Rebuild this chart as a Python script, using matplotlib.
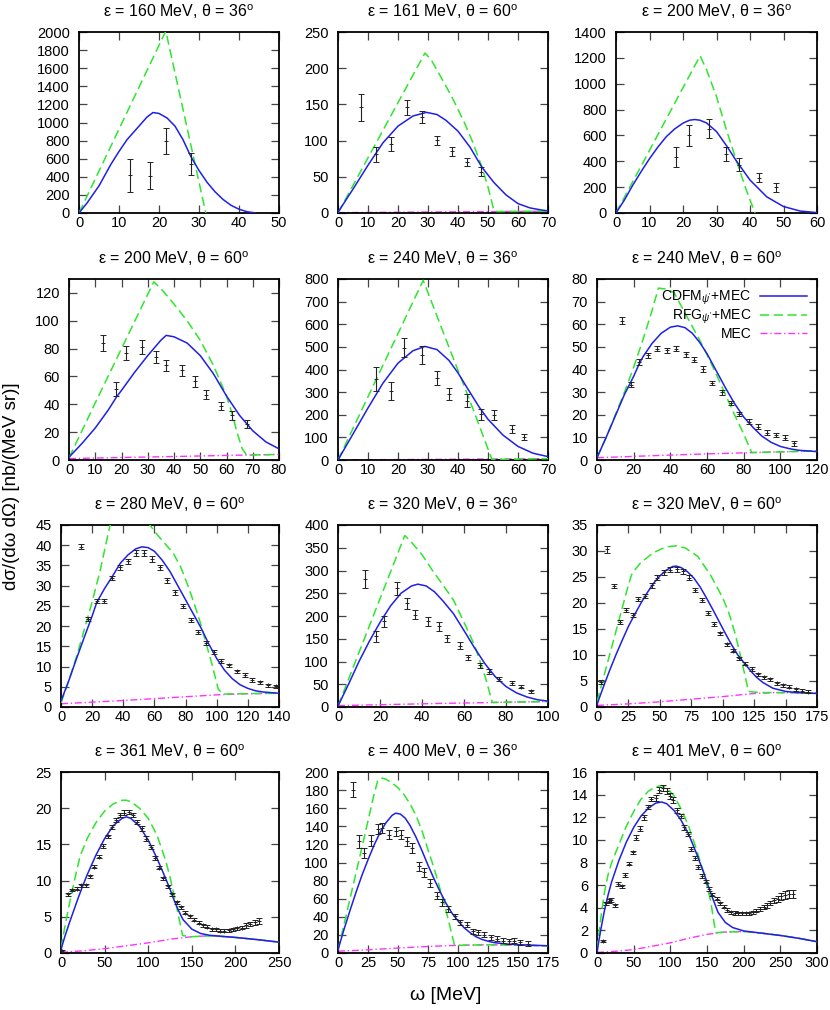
import matplotlib
matplotlib.use("Agg")
import matplotlib.pyplot as plt

plt.rcParams['font.family'] = ['Liberation Sans', 'DejaVu Sans']
plt.rcParams['mathtext.fontset'] = 'custom'
plt.rcParams['mathtext.rm'] = 'Liberation Sans'
plt.rcParams['mathtext.it'] = 'Liberation Sans:italic'

BLUE = '#1f1fe6'
GREEN = '#2ee62e'
MAGENTA = '#ff33ff'

# panel titles: (epsilon MeV, theta deg)
energies = [160, 161, 200, 200, 240, 240, 280, 320, 320, 361, 400, 401]
angles = [36, 60, 36, 60, 36, 60, 60, 36, 60, 60, 36, 60]

# axis ranges and ticks per panel
x_max = [50, 70, 60, 80, 70, 120, 140, 100, 175, 250, 175, 300]
x_step = [10, 10, 10, 10, 10, 20, 20, 20, 25, 50, 25, 50]
y_max = [2000, 250, 1400, 130, 800, 80, 45, 400, 35, 25, 200, 16]
y_tick_max = [2000, 250, 1400, 120, 800, 80, 45, 400, 35, 25, 200, 16]
y_step = [200, 50, 200, 20, 100, 10, 5, 50, 5, 5, 20, 2]

# ---- panel 1: 160 MeV, 36 deg ----
om1 = [12.7, 17.8, 21.8, 27.9]
xs1 = [415, 413, 798, 545]
er1 = [180, 148, 145, 120]
cdfm1_x = [0, 2, 5, 8, 10, 12, 15, 17, 18.5, 20, 22, 24, 26, 28, 30, 32, 34, 36, 38, 40, 42, 44]
cdfm1_y = [0, 110, 300, 540, 680, 810, 960, 1060, 1110, 1100, 1050, 960, 810, 620, 470, 340, 235, 150, 85, 42, 14, 2]
rfg1_x = [0, 21.7, 31.7]
rfg1_y = [0, 2010, 0]
mec1_x = []
mec1_y = []

# ---- panel 2: 161 MeV, 60 deg ----
om2 = [7.8, 12.8, 17.8, 22.9, 28.0, 32.9, 38.0, 42.9, 47.8]
xs2 = [146, 81, 95, 146, 133, 100.5, 85, 70.5, 57]
er2 = [19, 10, 10, 10, 8, 6, 6, 6, 6]
cdfm2_x = [0, 5, 10, 15, 20, 25, 29.5, 33, 36, 40, 44, 48, 52, 56, 60, 64, 68, 70]
cdfm2_y = [1, 33, 66, 97, 120, 134, 139, 136, 128, 113, 91, 63, 42, 25, 13, 7, 4, 3]
rfg2_x = [0, 29, 31, 34, 38, 42, 45, 48, 50, 52, 53, 70]
rfg2_y = [0, 221, 212, 190, 160, 126, 97, 63, 36, 3, 2, 2.5]
mec2_x = [0, 35, 70]
mec2_y = [0.5, 1.5, 2.5]

# ---- panel 3: 200 MeV, 36 deg ----
om3 = [17.9, 21.8, 27.8, 32.7, 36.7, 42.8, 47.8]
xs3 = [433, 601, 653, 459, 373, 272, 200]
er3 = [78, 80, 72, 55, 50, 35, 35]
cdfm3_x = [0, 2.5, 5, 7.5, 10, 12.5, 15, 17.5, 20, 22, 23.5, 25, 27, 30, 33, 36, 40, 45, 50, 55, 60]
cdfm3_y = [0, 100, 215, 320, 420, 510, 590, 650, 695, 718, 723, 718, 697, 630, 520, 400, 255, 125, 50, 15, 3]
rfg3_x = [0, 25.1, 27, 30, 33, 36, 39, 41.5]
rfg3_y = [0, 1216, 1110, 900, 640, 400, 170, 0]
mec3_x = []
mec3_y = []

# ---- panel 4: 200 MeV, 60 deg ----
om4 = [13.0, 17.9, 21.8, 27.9, 33.0, 37.1, 42.9, 48.0, 52.1, 58.0, 62.1, 67.9]
xs4 = [84, 51, 77, 81, 74, 68, 64.5, 56.5, 47, 39, 32, 26]
er4 = [6, 5, 5, 5, 4, 4, 4, 4, 3, 3, 3, 3]
cdfm4_x = [0, 5, 10, 15, 18, 20, 25, 30, 35, 37, 40, 45, 50, 55, 60, 65, 70, 75, 80]
cdfm4_y = [2, 12, 23, 36, 45, 50, 63, 75, 86, 89.5, 88.5, 84, 75, 62, 46, 32, 21, 13, 8]
rfg4_x = [0, 10, 20, 32.3, 36, 40, 45, 50, 55, 60, 62, 64, 66, 67.5, 70, 75, 80]
rfg4_y = [1.5, 41, 80, 128, 121, 112, 100, 86, 68, 46, 34, 20, 8, 4, 3.6, 3.8, 4]
mec4_x = [0, 20, 40, 60, 80]
mec4_y = [1, 1.8, 2.5, 3.3, 4.0]

# ---- panel 5: 240 MeV, 36 deg ----
om5 = [12.8, 17.8, 22.0, 28.0, 32.9, 37.0, 42.9, 47.7, 52.1, 58.0, 62.1]
xs5 = [358, 304, 497, 463, 363, 291, 262, 202, 198, 138, 102]
er5 = [52, 40, 42, 40, 32, 28, 28, 25, 22, 18, 15]
cdfm5_x = [0, 5, 10, 15, 20, 25, 29, 33, 37, 40, 43, 47, 50, 55, 60, 65, 70]
cdfm5_y = [0, 115, 230, 340, 428, 483, 502, 488, 440, 385, 320, 235, 180, 110, 60, 30, 15]
rfg5_x = [0, 28.4, 31, 35, 39, 43, 47, 51.3, 55, 60, 65, 70]
rfg5_y = [0, 794, 705, 567, 430, 295, 155, 3, 3, 4, 5, 6]
mec5_x = [0, 35, 70]
mec5_y = [0.5, 3, 6]

# ---- panel 6: 240 MeV, 60 deg ----
om6 = [13.5, 18.4, 23.1, 28.0, 32.9, 38.0, 43.1, 48.4, 53.1, 58.0, 62.9, 68.0, 72.9, 77.6, 82.9, 88.0, 92.9, 97.7, 102.7, 107.6]
xs6 = [61.5, 33.3, 43.3, 46.2, 49.2, 48.4, 49.2, 46.7, 44.4, 40.3, 34.1, 29.9, 25.2, 20.4, 17.0, 14.8, 12.1, 11.1, 9.9, 7.4]
er6 = [1.5, 1.2, 1.2, 1.2, 1.2, 1.2, 1.2, 1.2, 1.2, 1.2, 1.0, 1.0, 1.0, 1.0, 1.0, 1.0, 1.0, 1.0, 1.0, 1.0]
cdfm6_x = [0, 5, 10, 15, 20, 23, 25, 30, 35, 40, 44, 48, 52, 56, 60, 65, 70, 75, 80, 85, 90, 95, 100, 105, 110, 120]
cdfm6_y = [1, 10, 19.5, 29, 37, 42.5, 45.5, 51.5, 56, 58.7, 59.3, 58.5, 56, 52, 47, 39.5, 32, 25, 19, 14.5, 10.5, 7.8, 6, 5, 4.3, 3.7]
rfg6_x = [0, 5, 10, 15, 20, 25, 30, 33.5, 38, 42, 46, 50, 56, 60, 65, 70, 75, 80, 84.4, 90, 100, 110, 120]
rfg6_y = [1, 10, 20, 30, 41, 53, 66, 76, 75.5, 74, 68, 62, 53, 46.5, 38, 29, 20, 11.5, 3.3, 3.4, 3.6, 3.8, 4.0]
mec6_x = [0, 30, 60, 90, 120]
mec6_y = [1.0, 1.9, 2.7, 3.4, 4.0]

# ---- panel 7: 280 MeV, 60 deg ----
om7 = [12.6, 17.5, 22.9, 27.8, 32.9, 38.0, 43.0, 48.1, 53.2, 58.3, 63.5, 68.2, 73.1, 78.1, 83.2, 88.1, 93.0, 98.3, 103.0, 108.0, 113.1, 118.0, 122.9, 128.1, 133.2, 137.9]
xs7 = [39.6, 21.7, 26.1, 26.3, 32.0, 34.5, 36.0, 38.1, 38.1, 36.6, 34.5, 31.3, 28.4, 24.9, 21.5, 18.5, 15.8, 13.6, 11.3, 10.3, 8.8, 7.9, 6.7, 6.1, 5.4, 5.1]
er7 = [0.6, 0.5, 0.5, 0.5, 0.5, 0.6, 0.6, 0.7, 0.7, 0.7, 0.6, 0.6, 0.6, 0.5, 0.5, 0.5, 0.5, 0.5, 0.5, 0.4, 0.4, 0.4, 0.4, 0.4, 0.4, 0.4]
cdfm7_x = [0, 5, 10, 15, 20, 23, 28, 33, 38, 43, 48, 52, 56, 60, 65, 70, 75, 80, 85, 90, 95, 100, 105, 110, 115, 120, 125, 130, 140]
cdfm7_y = [1.5, 6.5, 12, 17.3, 22.5, 25.9, 29.3, 32.3, 35.5, 37.6, 39.1, 39.6, 39.4, 38.5, 36.3, 33.5, 30, 26.5, 23, 19.5, 15.5, 12, 9.1, 7.0, 5.5, 4.6, 4.0, 3.7, 3.4]
rfg7_x = [0, 5, 10, 16.5, 20, 25, 31.4, 35, 40, 45, 50, 57, 62, 67, 72, 77, 82, 86, 89.2, 93, 97, 101, 104, 110, 120, 130, 140]
rfg7_y = [1, 6.5, 12.5, 21.2, 26, 33.5, 44.8, 47, 48.5, 49, 48.3, 45, 42.5, 40.3, 38.1, 34.5, 29.5, 25, 21.2, 16, 10.5, 4.4, 3.2, 3.25, 3.3, 3.35, 3.4]
mec7_x = [0, 35, 70, 100, 120, 140]
mec7_y = [0.8, 1.5, 2.3, 3.0, 3.3, 3.4]

# ---- panel 8: 320 MeV, 36 deg ----
om8 = [12.9, 18.0, 21.8, 28.0, 33.0, 36.9, 42.7, 47.9, 51.8, 58.1, 62.1, 67.7, 72.1, 76.9, 82.8, 87.1, 91.9]
xs8 = [281, 155, 188, 261, 228, 203, 188, 177, 151, 135, 109, 91.4, 78, 62, 52.7, 45, 34.4]
er8 = [20, 13, 13, 14, 12, 10, 9, 9, 8, 8, 6, 6, 5, 5, 4, 4, 4]
cdfm8_x = [0, 5, 10, 15, 20, 25, 30, 35, 38, 42, 46, 50, 55, 60, 65, 70, 75, 80, 85, 90, 95, 100]
cdfm8_y = [2, 50, 100, 145, 186, 222, 250, 266, 270, 266, 253, 233, 205, 168, 130, 95, 66, 45, 31, 22, 16, 13]
rfg8_x = [0, 31.8, 35, 40, 45, 50, 55, 60, 65, 70, 73.5, 80, 90, 100]
rfg8_y = [2, 377, 362, 335, 300, 268, 235, 186, 136, 68, 10, 10.5, 11.5, 12]
mec8_x = [0, 25, 50, 75, 100]
mec8_y = [3, 5.5, 8, 10, 12]

# ---- panel 9: 320 MeV, 60 deg ----
om9 = [3.5, 8.2, 13.3, 18.1, 23.4, 28.7, 33.0, 38.3, 43.4, 48.1, 53.2, 58.0, 63.3, 68.1, 73.1, 77.9, 83.2, 88.0, 93.1, 97.9, 103.2, 108.0, 112.8, 117.8, 123.1, 127.9, 133.0, 137.8, 143.1, 147.9, 152.9, 158.0, 163.0, 167.6]
xs9 = [4.8, 30.3, 23.2, 16.4, 18.7, 17.7, 20.8, 21.4, 23.4, 24.9, 25.9, 26.4, 26.5, 26.1, 24.9, 22.5, 20.5, 18.1, 16.0, 14.2, 12.1, 10.8, 9.4, 8.3, 7.3, 6.3, 5.7, 5.3, 4.6, 4.2, 3.9, 3.4, 3.1, 2.9]
er9 = [0.3, 0.6, 0.4, 0.4, 0.4, 0.4, 0.4, 0.4, 0.5, 0.5, 0.5, 0.5, 0.5, 0.5, 0.5, 0.4, 0.4, 0.4, 0.4, 0.3, 0.3, 0.3, 0.3, 0.3, 0.3, 0.3, 0.3, 0.3, 0.3, 0.3, 0.3, 0.3, 0.3, 0.3]
cdfm9_x = [0, 5, 10, 15, 20, 25, 30, 35, 40, 45, 50, 55, 60, 63, 67, 72, 77, 82, 87, 92, 97, 102, 107, 112, 117, 122, 127, 132, 140, 150, 160, 175]
cdfm9_y = [0.5, 3.8, 7.0, 10.0, 12.8, 15.5, 17.8, 20.0, 22.0, 23.8, 25.2, 26.3, 27.0, 27.1, 26.8, 26.0, 24.8, 23.1, 21.0, 18.8, 16.5, 14.2, 12.0, 10.0, 8.5, 7.0, 5.7, 4.7, 3.6, 3.0, 2.75, 2.6]
rfg9_x = [0, 5, 10, 15, 20, 25, 28, 35, 45, 55, 63, 70, 80, 90, 100, 105, 110, 115, 120.5, 130, 140, 150, 160, 175]
rfg9_y = [1.0, 5.5, 10.0, 14.5, 19.0, 23.5, 25.8, 27.8, 29.7, 30.8, 31.0, 30.6, 29.0, 25.5, 21.0, 18.0, 14.0, 9.0, 3.0, 2.75, 2.8, 2.75, 2.75, 2.7]
mec9_x = [0, 25, 50, 75, 100, 125, 140, 160, 175]
mec9_y = [0.3, 0.6, 1.0, 1.5, 2.0, 2.6, 2.75, 2.75, 2.7]

# ---- panel 10: 361 MeV, 60 deg ----
om10 = [1.5, 7.6, 12.6, 18.3, 23.2, 29.0, 32.8, 38.1, 43.4, 48.0, 53.4, 58.3, 62.9, 67.8, 72.8, 77.7, 82.3, 87.7, 92.6, 97.6, 102.9, 107.9, 112.8, 117.4, 123.1, 127.7, 132.6, 137.6, 142.5, 147.9, 152.8, 157.8, 162.3, 167.7, 172.6, 177.6, 182.2, 187.1, 192.1, 197.4, 202.4, 207.3, 212.7, 217.2, 222.6, 227.1]
xs10 = [0.25, 8.1, 8.7, 8.9, 9.35, 9.35, 10.6, 11.9, 13.3, 14.8, 16.1, 17.4, 18.4, 19.1, 19.4, 19.5, 19.1, 18.1, 17.2, 15.8, 14.6, 13.1, 11.8, 10.3, 9.2, 8.1, 7.0, 6.3, 5.55, 5.1, 4.6, 4.2, 3.8, 3.6, 3.3, 3.25, 3.1, 3.1, 3.15, 3.25, 3.4, 3.5, 3.8, 4.0, 4.25, 4.4]
er10 = [0.1, 0.25, 0.2, 0.2, 0.2, 0.2, 0.2, 0.2, 0.2, 0.25, 0.25, 0.25, 0.3, 0.3, 0.3, 0.3, 0.3, 0.3, 0.3, 0.3, 0.25, 0.25, 0.25, 0.2, 0.2, 0.2, 0.2, 0.2, 0.2, 0.2, 0.2, 0.2, 0.2, 0.2, 0.2, 0.2, 0.2, 0.2, 0.2, 0.2, 0.25, 0.25, 0.3, 0.3, 0.35, 0.4]
cdfm10_x = [0, 5, 10, 15, 20, 25, 30, 40, 50, 60, 70, 75, 80, 90, 100, 110, 120, 125, 130, 135, 140, 150, 160, 170, 180, 200, 225, 250]
cdfm10_y = [0.5, 2.5, 4.3, 6.0, 7.7, 9.3, 10.8, 13.5, 15.8, 17.6, 18.6, 18.8, 18.6, 17.5, 15.6, 13.1, 10.3, 8.8, 7.2, 5.8, 4.6, 3.3, 2.7, 2.45, 2.35, 2.15, 1.85, 1.5]
rfg10_x = [0, 5, 10, 15, 20, 22, 30, 40, 50, 60, 70, 75, 80, 90, 100, 110, 120, 125, 130, 135, 139.5, 150, 165, 175, 200, 225, 250]
rfg10_y = [0.7, 4.0, 7.0, 9.8, 12.4, 13.4, 15.8, 18.0, 19.6, 20.6, 21.1, 21.1, 20.9, 20.0, 18.6, 16.3, 12.8, 10.5, 7.8, 5.0, 2.4, 2.25, 2.35, 2.35, 2.15, 1.85, 1.5]
mec10_x = [0, 25, 50, 75, 100, 125, 150, 165, 175, 200, 225, 250]
mec10_y = [0.1, 0.3, 0.6, 1.0, 1.4, 1.9, 2.25, 2.35, 2.35, 2.15, 1.85, 1.5]

# ---- panel 11: 400 MeV, 36 deg ----
om11 = [12.5, 17.3, 21.5, 27.9, 33.4, 36.8, 42.6, 48.2, 52.1, 57.7, 61.9, 67.7, 71.9, 76.6, 82.2, 86.4, 91.4, 97.5, 101.7, 107.3, 112.8, 117.0, 122.0, 127.6, 132.9, 137.9, 142.1, 146.8, 151.9, 158.0]
xs11 = [180.5, 123.4, 110.5, 124.1, 137, 138.1, 130.8, 134.4, 130.8, 123.4, 116, 95.8, 89.1, 77.3, 63.4, 56, 48.6, 40.5, 33.9, 31.3, 23.9, 22.8, 20.3, 17.3, 15.8, 13.6, 12.9, 13.6, 11.8, 10.3]
er11 = [8, 7, 6, 6, 6, 6, 5, 5, 5, 5, 5, 5, 5, 4, 4, 4, 3, 3, 3, 3, 3, 3, 3, 3, 3, 3, 3, 3, 3, 3]
cdfm11_x = [0, 5, 10, 15, 20, 25, 30, 35, 40, 45, 48, 52, 56, 60, 65, 70, 75, 80, 85, 90, 95, 100, 105, 110, 115, 120, 125, 130, 140, 150, 160, 175]
cdfm11_y = [3.7, 26, 47, 67, 86, 103, 119, 133, 144, 152, 154.5, 153.5, 149, 141, 128, 113, 97, 82, 68, 55, 44, 35.5, 28, 22.5, 18, 15, 13, 11.5, 10, 9.2, 8.7, 8.0]
rfg11_x = [0, 10, 20, 30, 33, 36, 40, 45, 50, 55, 60, 65, 70, 75, 80, 85, 90, 95, 97, 100, 125, 150, 175]
rfg11_y = [3, 60, 117, 175, 190, 193.5, 192, 188, 182.5, 175, 165, 152, 135, 114, 94, 71, 47, 20, 9, 8.5, 9.1, 8.7, 7.8]
mec11_x = [0, 25, 50, 75, 100, 125, 150, 175]
mec11_y = [2, 3.5, 5.5, 7.2, 8.5, 9.1, 8.7, 7.8]

# ---- panel 12: 401 MeV, 60 deg ----
om12 = [8.2, 12.8, 16.0, 19.6, 24.2, 28.7, 34.7, 38.8, 43.8, 49.2, 53.8, 59.3, 63.8, 69.8, 74.3, 79.8, 84.8, 89.4, 94.8, 99.4, 104.0, 108.5, 114.0, 119.0, 123.6, 128.1, 133.6, 138.2, 142.7, 148.2, 152.8, 157.3, 163.2, 167.8, 173.3, 177.8, 182.9, 188.3, 192.9, 197.4, 202.9, 207.5, 212.5, 217.0, 221.6, 227.1, 231.6, 236.2, 241.7, 246.2, 251.3, 256.7, 261.3, 266.8]
xs12 = [1.03, 4.4, 4.6, 4.7, 4.2, 6.1, 5.9, 6.9, 7.9, 8.9, 10.2, 11.0, 12.0, 12.9, 13.6, 13.7, 14.4, 14.6, 14.3, 13.85, 13.5, 12.6, 12.1, 11.1, 10.5, 9.2, 8.4, 7.6, 6.8, 6.3, 5.65, 5.15, 4.8, 4.4, 4.1, 3.8, 3.6, 3.55, 3.5, 3.5, 3.5, 3.5, 3.6, 3.75, 3.9, 4.05, 4.2, 4.4, 4.65, 4.8, 5.0, 5.15, 5.25, 5.25]
er12 = [0.1, 0.15, 0.15, 0.15, 0.1, 0.15, 0.15, 0.15, 0.15, 0.15, 0.2, 0.2, 0.2, 0.2, 0.2, 0.25, 0.25, 0.25, 0.25, 0.25, 0.25, 0.2, 0.2, 0.2, 0.2, 0.2, 0.2, 0.2, 0.15, 0.15, 0.15, 0.15, 0.15, 0.15, 0.15, 0.15, 0.15, 0.15, 0.15, 0.15, 0.15, 0.15, 0.15, 0.15, 0.2, 0.2, 0.2, 0.2, 0.25, 0.25, 0.3, 0.35, 0.35, 0.35]
cdfm12_x = [0, 5, 10, 15, 20, 30, 40, 50, 60, 70, 80, 88, 95, 105, 115, 125, 135, 145, 155, 165, 175, 185, 200, 225, 250, 275, 300]
cdfm12_y = [0.1, 2.0, 3.7, 5.1, 6.3, 8.2, 9.8, 11.1, 12.1, 12.8, 13.25, 13.35, 13.2, 12.6, 11.7, 10.5, 8.9, 7.2, 5.3, 3.6, 2.7, 2.25, 1.95, 1.75, 1.55, 1.3, 1.0]
rfg12_x = [0, 5, 10, 15, 20, 30, 40, 50, 60, 70, 80, 88, 95, 105, 115, 125, 135, 145, 155, 160, 162, 175, 200, 225, 250, 275, 300]
rfg12_y = [0.3, 3.0, 5.3, 6.9, 8.0, 9.6, 11.2, 12.5, 13.6, 14.3, 14.7, 14.8, 14.6, 13.9, 12.7, 11.2, 9.3, 7.2, 4.6, 2.5, 1.8, 1.85, 1.9, 1.75, 1.55, 1.3, 1.0]
mec12_x = [0, 25, 50, 75, 100, 125, 150, 175, 200, 225, 250, 275, 300]
mec12_y = [0.05, 0.15, 0.3, 0.6, 0.9, 1.3, 1.65, 1.85, 1.9, 1.75, 1.55, 1.3, 1.0]

data = [(om1, xs1, er1), (om2, xs2, er2), (om3, xs3, er3), (om4, xs4, er4),
        (om5, xs5, er5), (om6, xs6, er6), (om7, xs7, er7), (om8, xs8, er8),
        (om9, xs9, er9), (om10, xs10, er10), (om11, xs11, er11), (om12, xs12, er12)]
cdfm = [(cdfm1_x, cdfm1_y), (cdfm2_x, cdfm2_y), (cdfm3_x, cdfm3_y), (cdfm4_x, cdfm4_y),
        (cdfm5_x, cdfm5_y), (cdfm6_x, cdfm6_y), (cdfm7_x, cdfm7_y), (cdfm8_x, cdfm8_y),
        (cdfm9_x, cdfm9_y), (cdfm10_x, cdfm10_y), (cdfm11_x, cdfm11_y), (cdfm12_x, cdfm12_y)]
rfg = [(rfg1_x, rfg1_y), (rfg2_x, rfg2_y), (rfg3_x, rfg3_y), (rfg4_x, rfg4_y),
       (rfg5_x, rfg5_y), (rfg6_x, rfg6_y), (rfg7_x, rfg7_y), (rfg8_x, rfg8_y),
       (rfg9_x, rfg9_y), (rfg10_x, rfg10_y), (rfg11_x, rfg11_y), (rfg12_x, rfg12_y)]
mec = [(mec1_x, mec1_y), (mec2_x, mec2_y), (mec3_x, mec3_y), (mec4_x, mec4_y),
       (mec5_x, mec5_y), (mec6_x, mec6_y), (mec7_x, mec7_y), (mec8_x, mec8_y),
       (mec9_x, mec9_y), (mec10_x, mec10_y), (mec11_x, mec11_y), (mec12_x, mec12_y)]

# axes boxes in pixels: left, right, top, bottom
boxes = [(79, 279, 32, 213), (338, 548, 32, 213), (616, 817, 32, 213),
         (69, 279, 279, 460), (338, 548, 279, 460), (597, 817, 279, 460),
         (61, 279, 525, 707), (338, 548, 525, 707), (597, 817, 525, 707),
         (61, 279, 772, 953), (338, 548, 772, 953), (597, 817, 772, 953)]

W, H = 830, 1010
fig = plt.figure(figsize=(W / 100, H / 100), dpi=100)

for i in range(12):
    l, r, t, b = boxes[i]
    ax = fig.add_axes([l / W, 1 - b / H, (r - l) / W, (b - t) / H])

    mx, my = mec[i]
    if mx:
        ax.plot(mx, my, color=MAGENTA, lw=1.0, dashes=(5, 2, 1, 2), label='MEC', zorder=2)
    ax.plot(rfg[i][0], rfg[i][1], color=GREEN, lw=1.1, dashes=(6, 3), label="RFG$_{\\psi'}$+MEC", zorder=3)
    ax.plot(cdfm[i][0], cdfm[i][1], color=BLUE, lw=1.1, label="CDFM$_{\\psi'}$+MEC", zorder=4)
    om, xs, er = data[i]
    ax.errorbar(om, xs, yerr=er, fmt='+', color='#222222', ms=3, mew=0.7,
                elinewidth=0.8, capsize=2, capthick=0.8, zorder=5)

    ax.set_xlim(0, x_max[i])
    ax.set_ylim(0, y_max[i])
    ax.set_xticks(list(range(0, x_max[i] + 1, x_step[i])))
    ax.set_yticks(list(range(0, y_tick_max[i] + 1, y_step[i])))
    ax.tick_params(direction='in', length=5.5, width=0.9, color='#444444',
                   top=True, right=True, labelsize=10.5)
    ax.tick_params(axis='x', pad=2.5)
    ax.tick_params(axis='y', pad=6.5)
    for s in ax.spines.values():
        s.set_linewidth(1.3)

    fig.text((l + r) / 2 / W, 1 - (t - 15) / H,
             "\u03b5 = %d MeV, \u03b8 = %d$^{\\mathrm{o}}$" % (energies[i], angles[i]),
             ha='center', va='baseline', fontsize=11.5)

    if i == 5:
        h, lab = ax.get_legend_handles_labels()
        order = [2, 1, 0]
        ax.legend([h[k] for k in order], [lab[k] for k in order], loc='upper right',
                  frameon=False, markerfirst=False, fontsize=10, handlelength=3.4,
                  handletextpad=0.6, labelspacing=0.05, borderaxespad=0.5,
                  borderpad=0.2)

fig.text(12 / W, 1 - 486 / H, "d\u03c3/(d\u03c9 d\u03a9) [nb/(MeV sr)]",
         rotation=90, ha='center', va='center', fontsize=13.5)
fig.text(446 / W, 1 - 995 / H, "\u03c9 [MeV]", ha='center', va='center', fontsize=14)

fig.savefig('out.png', dpi=100)
